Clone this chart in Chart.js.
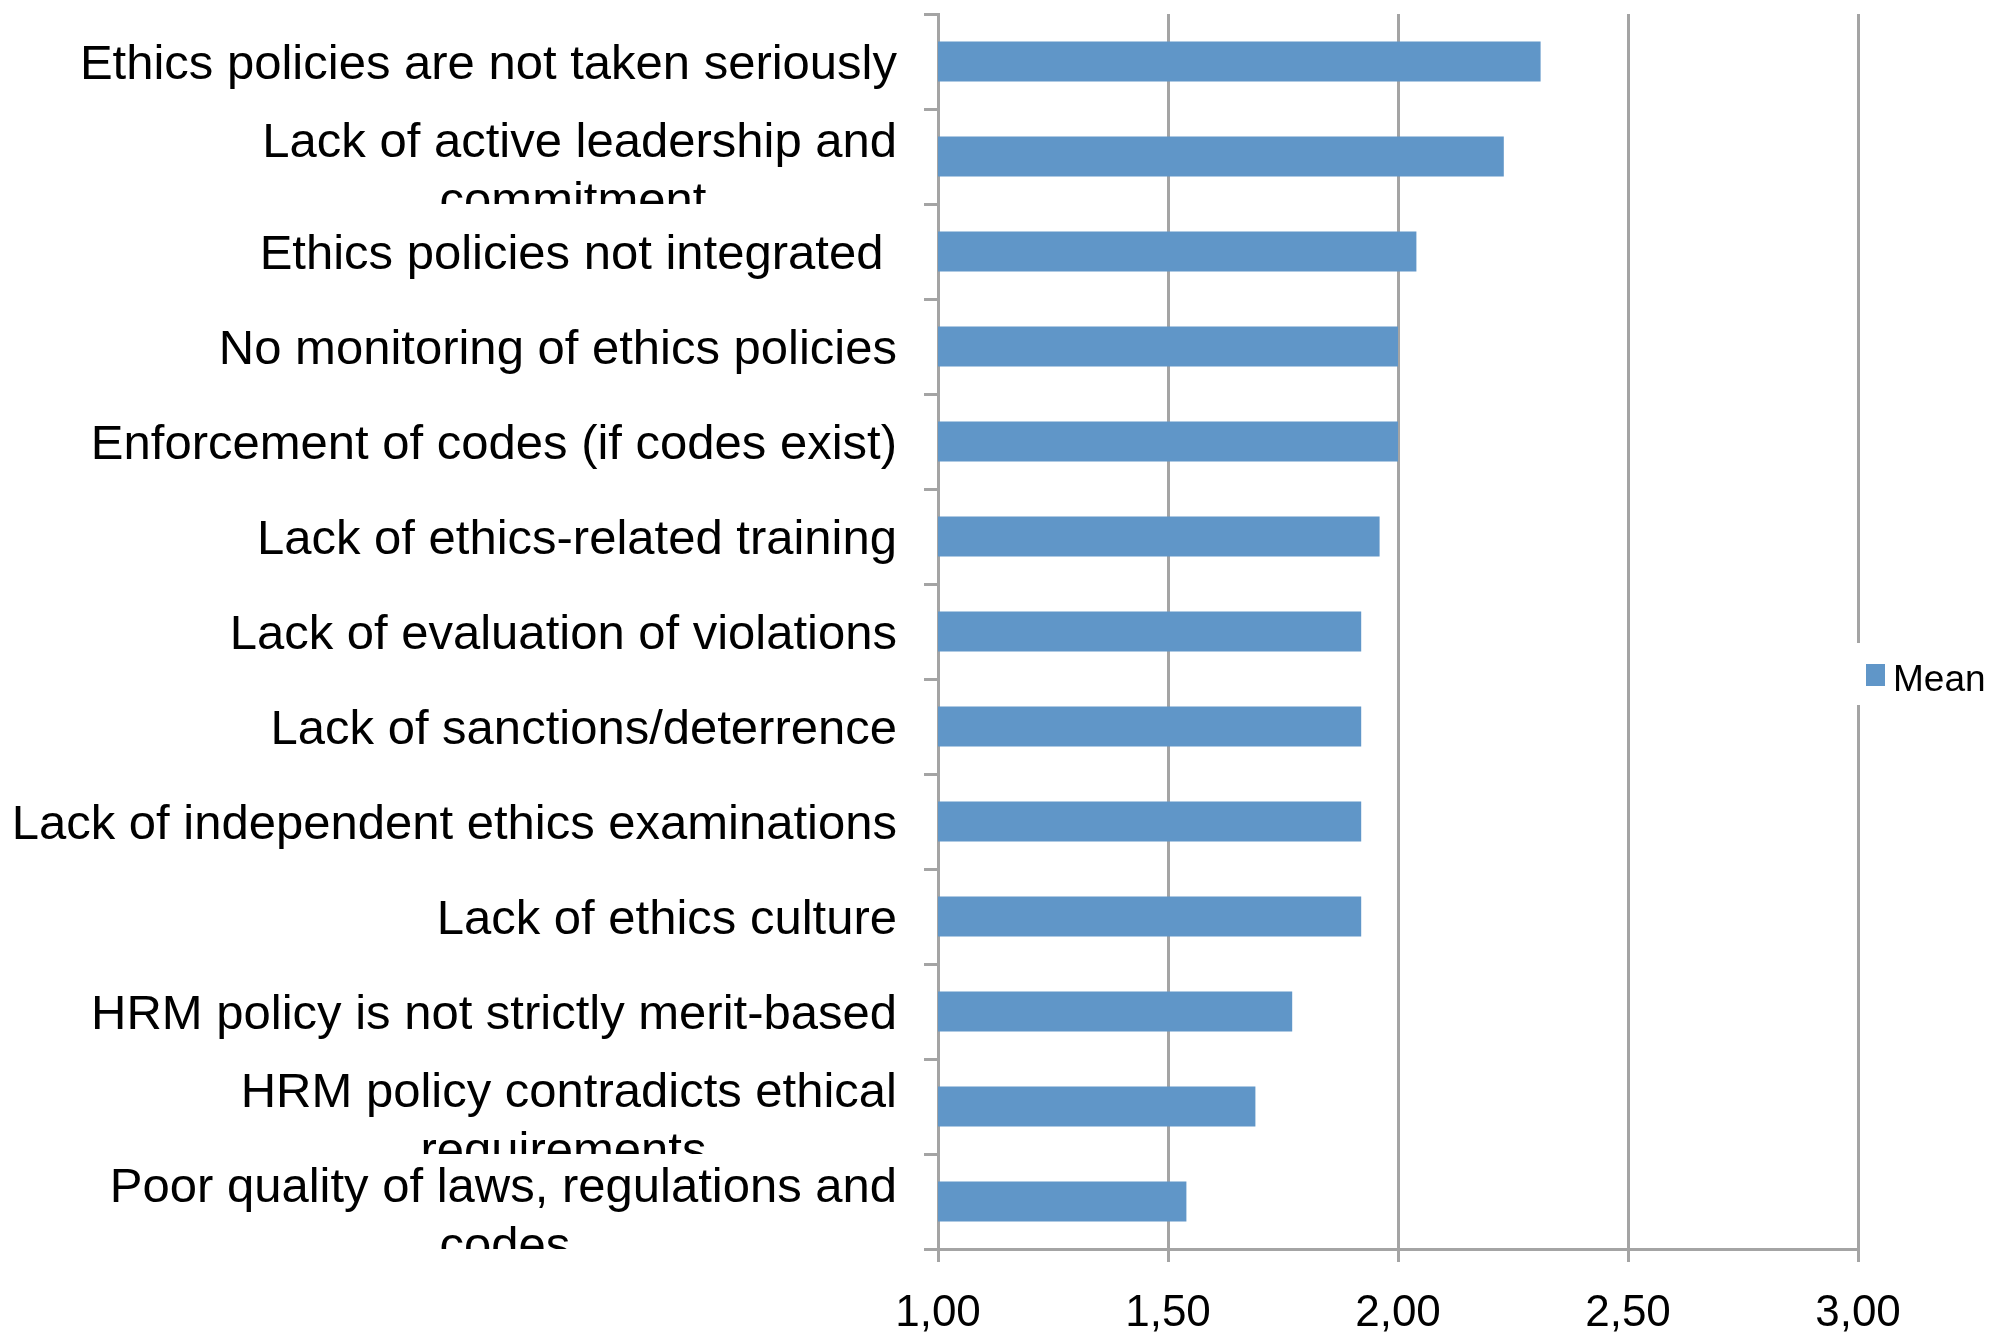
<!DOCTYPE html>
<html>
<head>
<meta charset="utf-8">
<script src="https://cdn.jsdelivr.net/npm/chart.js@4/dist/chart.umd.min.js"></script>
<style>
  html, body { margin: 0; padding: 0; background: #fff; }
  #wrap { width: 1997px; height: 1332px; }
</style>
</head>
<body>
<div id="wrap"><canvas id="bar-chart"></canvas></div>
<script>
const categories = [
  "Ethics policies are not taken seriously",
  ["Lack of active leadership and", "commitment"],
  "Ethics policies not integrated ",
  "No monitoring of ethics policies",
  "Enforcement of codes (if codes exist)",
  "Lack of ethics-related training",
  "Lack of evaluation of violations",
  "Lack of sanctions/deterrence",
  "Lack of independent ethics examinations",
  "Lack of ethics culture",
  "HRM policy is not strictly merit-based",
  ["HRM policy contradicts ethical", "requirements"],
  ["Poor quality of laws, regulations and", "codes"]
];
const meanValues = [2.31, 2.23, 2.04, 2.00, 2.00, 1.96, 1.92, 1.92, 1.92, 1.92, 1.77, 1.69, 1.54];
const xTicks = [1.00, 1.50, 2.00, 2.50, 3.00];

const FONT = "'Liberation Sans', Arial, sans-serif";
const GRID = "#a4a4a4";

// wrapped lines are centred under the first line: pad the second one with spaces
const measure = document.createElement("canvas").getContext("2d");
measure.font = "49px " + FONT;
const spaceW = measure.measureText(" ").width;
const tickLabels = categories.map(c => {
  if (!Array.isArray(c)) return [c, ""]; // empty 2nd line keeps single labels centred
  const gap = (measure.measureText(c[0]).width - measure.measureText(c[1]).width) / 2;
  return [c[0], c[1] + " ".repeat(Math.max(0, Math.round(gap / spaceW)))];
});

// category axis whose labels are cut off at the edge of their own band
class BandClipScale extends Chart.CategoryScale {
  drawLabels(area) {
    const items = super.getLabelItems(area);
    const band = (this.bottom - this.top) / items.length;
    const ctx = this.ctx;
    items.forEach((item, i) => {
      const mid = this.getPixelForTick(i);
      ctx.save();
      ctx.beginPath();
      ctx.rect(0, mid - band / 2, this.right, band);
      ctx.clip();
      this._only = item;
      super.drawLabels(area);
      ctx.restore();
    });
    this._only = null;
  }
  getLabelItems(area) {
    return this._only ? [this._only] : super.getLabelItems(area);
  }
}
BandClipScale.id = "bandClip";
Chart.register(BandClipScale);

const sideLegend = {
  id: "sideLegend",
  afterDraw(chart) {
    const ctx = chart.ctx;
    const ds = chart.data.datasets[0];
    ctx.save();
    ctx.fillStyle = "#fff";
    ctx.fillRect(1850, 643, 147, 62);
    ctx.fillStyle = ds.backgroundColor;
    ctx.fillRect(1866, 664, 19, 22);
    ctx.fillStyle = "#000";
    ctx.font = "37px " + FONT;
    ctx.textBaseline = "middle";
    ctx.fillText(ds.label, 1893, 681);
    ctx.restore();
  }
};

new Chart(document.getElementById("bar-chart"), {
  type: 'bar',
  data: {
    labels: tickLabels,
    datasets: [
      {
        label: "Mean",
        backgroundColor: "#6096C8",
        borderWidth: 0,
        categoryPercentage: 1,
        barPercentage: 0.42,
        data: meanValues
      }
    ]
  },
  options: {
    indexAxis: 'y',
    responsive: true,
    maintainAspectRatio: false,
    animation: false,
    layout: { padding: { top: 14, right: 139, left: 0, bottom: 0 } },
    plugins: {
      legend: { display: false },
      tooltip: { enabled: false }
    },
    scales: {
      x: {
        type: 'linear',
        min: 1,
        max: 3,
        afterBuildTicks: s => { s.ticks = xTicks.map(v => ({ value: v })); },
        afterFit: s => { s.height = 83; s.paddingLeft = 0; s.paddingRight = 0; },
        grid: { color: GRID, lineWidth: 3, tickLength: 13 },
        border: { color: GRID, width: 3 },
        ticks: {
          color: "#000",
          padding: 25,
          font: { family: FONT, size: 44 },
          callback: v => v.toFixed(2).replace(".", ",")
        }
      },
      y: {
        type: 'bandClip',
        afterFit: s => { s.width = 938; s.paddingTop = 0; s.paddingBottom = 0; },
        grid: { drawOnChartArea: false, color: GRID, lineWidth: 3, tickLength: 14, offset: true },
        border: { color: GRID, width: 3 },
        ticks: {
          color: "#000",
          padding: 27,
          autoSkip: false,
          labelOffset: 16.5,
          font: ctx => ({
            family: FONT,
            size: 49,
            lineHeight: Array.isArray(categories[ctx.index]) ? 59 / 49 : 25 / 49
          })
        }
      }
    }
  },
  plugins: [sideLegend]
});
</script>
</body>
</html>
